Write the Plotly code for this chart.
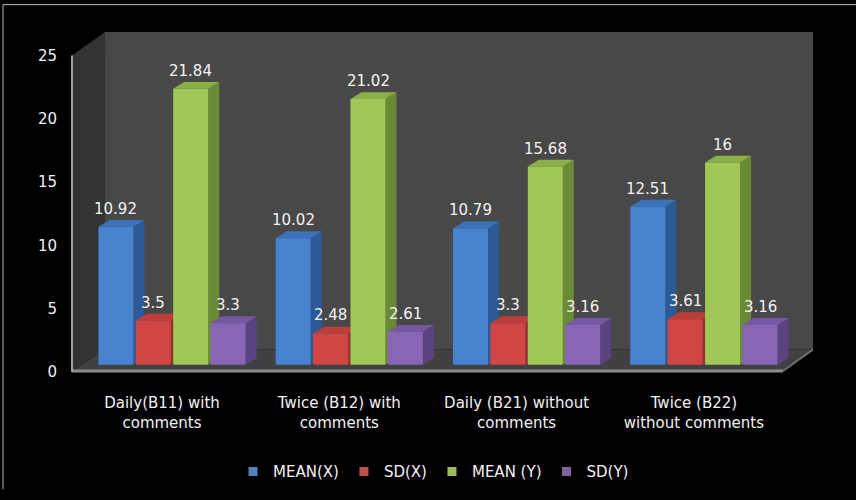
import plotly.graph_objects as go

# ---------------- data ----------------
categories = ["Daily(B11) with<br>comments", "Twice (B12) with<br>comments",
              "Daily (B21) without<br>comments", "Twice (B22)<br>without comments"]
series_names = ["MEAN(X)", "SD(X)", "MEAN (Y)", "SD(Y)"]
mean_x = [10.92, 10.02, 10.79, 12.51]
sd_x = [3.5, 2.48, 3.3, 3.61]
mean_y = [21.84, 21.02, 15.68, 16]
sd_y = [3.3, 2.61, 3.16, 3.16]
y_ticks = [0, 5, 10, 15, 20, 25]

series_values = [mean_x, sd_x, mean_y, sd_y]
front_colors = ["#4883d0", "#d04644", "#a0c858", "#8965b5"]
side_colors = ["#2c5a96", "#96302e", "#6b8a35", "#5b4382"]
top_colors = ["#3b72ba", "#bd3d3b", "#8bb046", "#7557a2"]
legend_colors = ["#4f81bd", "#c0504d", "#9bbb59", "#8064a2"]

# ---------------- geometry ----------------
W, H = 856, 500
L, R, T, B = 72, 43, 32, 121
PW, PH = W - L - R, H - T - B
px_per_cat = 177.3
px_per_val = 12.94
x_min = (L - 172) / px_per_cat
x_range = [x_min, x_min + PW / px_per_cat]
y_min = -(379 - 372.7) / px_per_val
y_range = [y_min, y_min + PH / px_per_val]
bargap, bargroupgap = 0.156, 0.064
n = len(series_values)
slot = (1 - bargap) / n
bar_w = slot * (1 - bargroupgap)
dx = 11 / px_per_cat
dy = 7 / px_per_val


def px(xp, yp):
    return (xp - L) / PW, (H - B - yp) / PH


def ppath(points):
    s = ""
    for j, (a, b) in enumerate(points):
        xa, yb = px(a, b)
        s += ("M" if j == 0 else "L") + f"{xa:.5f},{yb:.5f} "
    return s + "Z"


FONT = "DejaVu Sans"
TXT = "#f2f2f2"

fig = go.Figure()

shapes = []
# walls / floor
shapes.append(dict(type="path", xref="paper", yref="paper", layer="below",
                   path=ppath([(105, 32), (813, 32), (813, 357), (105, 357)]),
                   fillcolor="#484848", line=dict(width=0)))
shapes.append(dict(type="path", xref="paper", yref="paper", layer="below",
                   path=ppath([(72, 56), (105, 32), (105, 357), (72, 379)]),
                   fillcolor="#333333", line=dict(width=0)))
shapes.append(dict(type="path", xref="paper", yref="paper", layer="below",
                   path=ppath([(72, 379), (105, 357), (813, 357), (783, 379)]),
                   fillcolor="#414141", line=dict(width=0)))

# 3D faces of bars
for i in range(len(categories)):
    for k in range(n):
        v = series_values[k][i]
        xl = i - (1 - bargap) / 2 + slot * k + slot * bargroupgap / 2
        xr = xl + bar_w
        shapes.append(dict(type="path", xref="x", yref="y", layer="below",
                           path=f"M{xr},0 L{xr+dx},{dy} L{xr+dx},{v+dy} L{xr},{v} Z",
                           fillcolor=side_colors[k], line=dict(width=0)))
        shapes.append(dict(type="path", xref="x", yref="y", layer="below",
                           path=f"M{xl},{v} L{xr},{v} L{xr+dx},{v+dy} L{xl+dx},{v+dy} Z",
                           fillcolor=top_colors[k], line=dict(width=0)))

# edges (above)
for (p0, p1, col, wd) in [((72, 379), (783, 379), "#8c8c8c", 3),
                          ((783, 379), (813, 357), "#707070", 2),
                          ((72, 56), (72, 380), "#a0a0a0", 2),
                          ((3, 4), (856, 4), "#bbbbbb", 1),
                          ((3, 4), (3, 500), "#bbbbbb", 1)]:
    a0, b0 = px(*p0)
    a1, b1 = px(*p1)
    shapes.append(dict(type="line", xref="paper", yref="paper", layer="above",
                       x0=a0, y0=b0, x1=a1, y1=b1, line=dict(color=col, width=wd)))

x_idx = list(range(len(categories)))
for k in range(n):
    fig.add_trace(go.Bar(x=x_idx, y=series_values[k], name=series_names[k],
                         marker=dict(color=front_colors[k], line=dict(width=0)),
                         showlegend=False, hoverinfo="skip"))
    fig.add_trace(go.Scatter(x=[None], y=[None], mode="markers", name=series_names[k],
                             marker=dict(symbol="square", size=9, color=legend_colors[k])))

annotations = []
for i in range(len(categories)):
    for k in range(n):
        v = series_values[k][i]
        xc = i - (1 - bargap) / 2 + slot * (k + 0.5)
        annotations.append(dict(x=xc, y=v, xref="x", yref="y", text=f"{v:g}",
                                showarrow=False, yanchor="bottom", yshift=7,
                                font=dict(family=FONT, size=15, color=TXT)))

fig.update_layout(
    width=W, height=H,
    margin=dict(l=L, r=R, t=T, b=B),
    paper_bgcolor="#000000", plot_bgcolor="rgba(0,0,0,0)",
    barmode="group", bargap=bargap, bargroupgap=bargroupgap,
    shapes=shapes, annotations=annotations,
    font=dict(family=FONT, size=15, color=TXT),
    xaxis=dict(range=x_range, tickvals=x_idx, ticktext=categories,
               showgrid=False, zeroline=False, showline=False, ticks="",
               ticklabelshift=-10, ticklabelstandoff=21,
               tickfont=dict(family=FONT, size=15, color=TXT)),
    yaxis=dict(range=y_range, tickvals=y_ticks, showgrid=False, zeroline=False,
               showline=False, ticks="", ticklabelshift=7, ticklabelstandoff=14,
               tickfont=dict(family=FONT, size=15, color=TXT)),
    legend=dict(orientation="h", x=(433.5 - L) / PW, xanchor="center",
                y=(H - B - 482) / PH, yanchor="middle",
                bgcolor="rgba(0,0,0,0)", font=dict(family=FONT, size=15, color=TXT)),
)

fig.write_html("out.html")
